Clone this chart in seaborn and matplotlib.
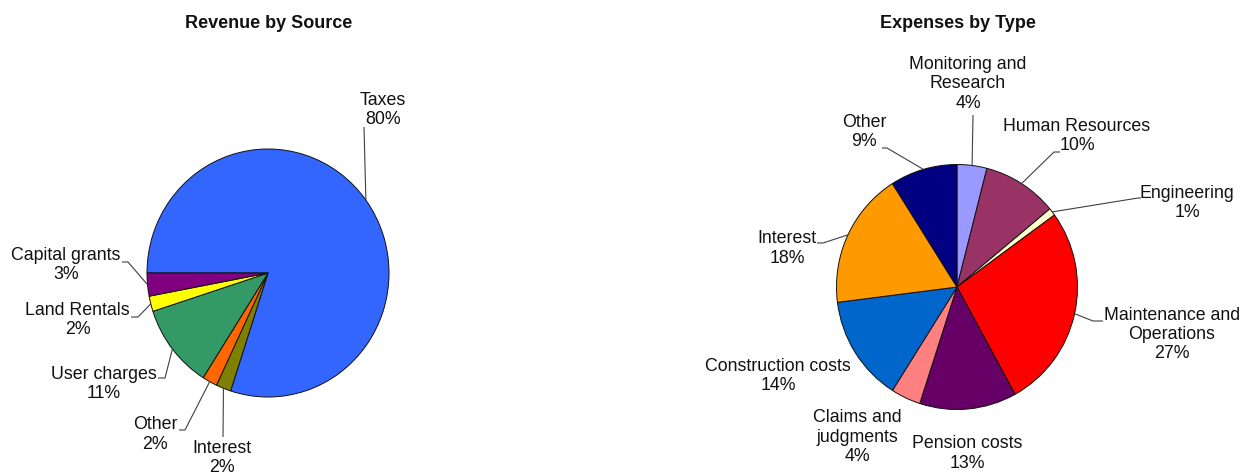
import numpy as np
import matplotlib
matplotlib.use("Agg")
import matplotlib.pyplot as plt
import seaborn as sns

W, H = 1243, 474

# ---------------- data ----------------
rev_title = "Revenue by Source"
rev_labels = ["Taxes", "Interest", "Other", "User charges", "Land Rentals", "Capital grants"]
rev_values = [80, 2, 2, 11, 2, 3]
rev_colors = ["#3366FF", "#808000", "#FF6600", "#339966", "#FFFF00", "#800080"]

exp_title = "Expenses by Type"
exp_labels = ["Monitoring and\nResearch", "Human Resources", "Engineering",
              "Maintenance and\nOperations", "Pension costs", "Claims and\njudgments",
              "Construction costs", "Interest", "Other"]
exp_values = [4, 10, 1, 27, 13, 4, 14, 18, 9]
exp_colors = ["#9999FF", "#993366", "#FFFFCC", "#FF0000", "#660066",
              "#FF8080", "#0066CC", "#FF9900", "#000080"]

# ---------------- layout (pixels, y from top) ----------------
rev_geom = dict(cx=268, cy=273, rx=121, ry=124, start=180, title_xy=(269, 23))
exp_geom = dict(cx=957, cy=287, rx=120.5, ry=122.5, start=90, title_xy=(958, 23))

rev_layout = [
    ((383, 110), [(364, 127)]),
    ((222, 458), [(223, 437)]),
    ((155, 434.5), [(185, 430), (179, 430)]),
    ((104, 384), [(165, 378), (158, 378)]),
    ((77.5, 320), [(138, 317), (131, 317)]),
    ((66, 265), [(128, 262), (122, 262)]),
]
exp_layout = [
    ((968, 84), [(973, 115)]),
    ((1077, 136), [(1054, 152), (1060, 152)]),
    ((1187, 203), [(1138, 198), (1141, 198)]),
    ((1172, 334.5), [(1093, 321), (1103, 321)]),
    ((967, 453.5), []),
    ((857, 437), []),
    ((778, 376), []),
    ((787, 248.5), [(823, 243), (817, 243)]),
    ((864, 132), [(887, 148), (882, 148)]),
]

sns.set_theme(style="white")
plt.rcParams["font.family"] = ["Liberation Sans", "DejaVu Sans"]

fig = plt.figure(figsize=(W / 100, H / 100), dpi=100)
fig.patch.set_facecolor("white")


def draw_pie(values, labels, colors, geom, layout, title):
    cx, cy, rx, ry = geom["cx"], geom["cy"], geom["rx"], geom["ry"]
    ax = fig.add_axes([0, 0, 1, 1], facecolor="none")
    pal = sns.color_palette(colors)
    wedges, _ = ax.pie(values, colors=pal, startangle=geom["start"], counterclock=False,
                       radius=1, center=(0, 0),
                       wedgeprops=dict(edgecolor="#111111", linewidth=0.7))
    ax.set_aspect("auto")
    ax.set_xlim((0 - cx) / rx, (W - cx) / rx)
    ax.set_ylim((cy - H) / ry, cy / ry)
    ax.axis("off")

    def to_data(p):
        return ((p[0] - cx) / rx, (cy - p[1]) / ry)

    for w, lab, v, (txy, path) in zip(wedges, labels, values, layout):
        tx, ty = to_data(txy)
        ax.text(tx, ty, f"{lab}\n{v}%", ha="center", va="center", multialignment="center",
                fontsize=12.8, color="#111111", linespacing=1.18)
        if path:
            mid = np.deg2rad((w.theta1 + w.theta2) / 2)
            pts = [(np.cos(mid), np.sin(mid))] + [to_data(p) for p in path]
            xs, ys = zip(*pts)
            ax.plot(xs, ys, color="#404040", lw=0.8, solid_capstyle="butt")

    tx, ty = geom["title_xy"]
    fig.text(tx / W, 1 - ty / H, title, ha="center", va="center",
             fontsize=13, fontweight="bold", color="#111111")


draw_pie(rev_values, rev_labels, rev_colors, rev_geom, rev_layout, rev_title)
draw_pie(exp_values, exp_labels, exp_colors, exp_geom, exp_layout, exp_title)

fig.savefig("out.png", dpi=100, facecolor="white")
